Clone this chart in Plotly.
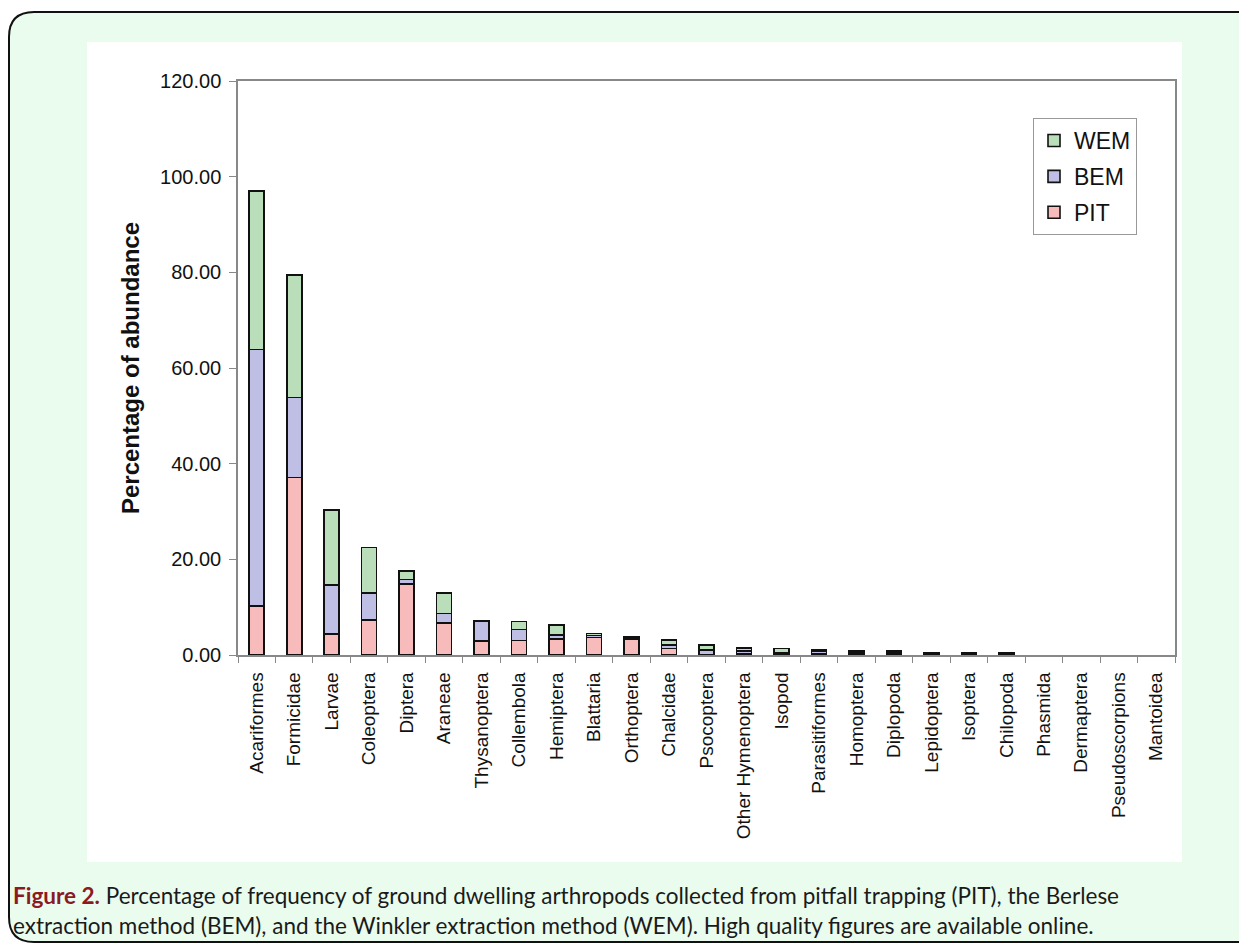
import plotly.graph_objects as go

categories = ["Acariformes", "Formicidae", "Larvae", "Coleoptera", "Diptera", "Araneae",
              "Thysanoptera", "Collembola", "Hemiptera", "Blattaria", "Orthoptera", "Chalcidae",
              "Psocoptera", "Other Hymenoptera", "Isopod", "Parasitiformes", "Homoptera",
              "Diplopoda", "Lepidoptera", "Isoptera", "Chilopoda", "Phasmida", "Dermaptera",
              "Pseudoscorpions", "Mantoidea"]
pit = [10.2, 37.1, 4.4, 7.3, 14.8, 6.7, 2.9, 3.0, 3.3, 3.7, 3.2, 1.4, 0.1, 0.3, 0.2, 0.2,
       0.4, 0.4, 0.2, 0.2, 0.2, 0, 0, 0, 0]
bem = [53.7, 16.7, 10.2, 5.6, 1.0, 2.0, 4.1, 2.3, 0.9, 0.4, 0.3, 0.7, 1.0, 0.5, 0.3, 0.7,
       0.2, 0.2, 0.1, 0.1, 0.1, 0, 0, 0, 0]
wem = [33.1, 25.6, 15.7, 9.6, 1.7, 4.2, 0.1, 1.7, 2.1, 0.4, 0.3, 1.0, 1.05, 0.65, 0.9, 0.2,
       0.2, 0.2, 0.1, 0.1, 0.1, 0, 0, 0, 0]
series_names = ["PIT", "BEM", "WEM"]
series_colors = ["#F8BBBB", "#BFBFE6", "#B9DEB9"]
y_ticks = [0, 20, 40, 60, 80, 100, 120]
y_title = "Percentage of abundance"
caption_bold = "Figure 2."
caption_line1 = " Percentage of frequency of ground dwelling arthropods collected from pitfall trapping (PIT), the Berlese"
caption_line2 = "extraction method (BEM), and the Winkler extraction method (WEM). High quality figures are available online."

# the page body adds an 8px offset; work in reference pixel coordinates and subtract it
OFF = 8
W, H = 1247 - OFF, 947 - OFF
L, R, T, B = 238 - OFF, 1175 - OFF, 81 - OFF, 655 - OFF
pw, ph = R - L, B - T


def px(x):
    return (x - OFF - L) / pw


def py(y):
    return (B - (y - OFF)) / ph


fig = go.Figure()
for rank, (name, vals, col) in enumerate(zip(series_names, [pit, bem, wem], series_colors)):
    fig.add_trace(go.Bar(
        x=categories, y=[v if v > 0 else None for v in vals], name=name,
        legendgroup=name, legendrank=3 - rank,
        marker=dict(color=col, line=dict(color="#111111", width=1.6)),
        width=0.4,
    ))

# outer rounded card
r = 25
x0, y0, x1, y1 = 9, 12, 1270, 942
path = (f"M {px(x0 + r)},{py(y0)} L {px(x1)},{py(y0)} L {px(x1)},{py(y1)} "
        f"L {px(x0 + r)},{py(y1)} Q {px(x0)},{py(y1)} {px(x0)},{py(y1 - r)} "
        f"L {px(x0)},{py(y0 + r)} Q {px(x0)},{py(y0)} {px(x0 + r)},{py(y0)} Z")
shapes = [
    dict(type="path", path=path, xref="paper", yref="paper", layer="below",
         fillcolor="#EAFCEE", line=dict(color="#111111", width=2)),
    dict(type="rect", xref="paper", yref="paper", layer="below",
         x0=px(87), x1=px(1182), y0=py(862), y1=py(42),
         fillcolor="white", line=dict(width=0)),
]

cap_font = dict(family="Lato", size=22.5, color="#1a1a1a")
annotations = [
    dict(xref="paper", yref="paper", x=px(11), y=py(895), xanchor="left", yanchor="middle",
         showarrow=False, align="left", font=cap_font,
         text=f"<b><span style='color:#8B1A22'>{caption_bold}</span></b>{caption_line1}"),
    dict(xref="paper", yref="paper", x=px(11), y=py(925), xanchor="left", yanchor="middle",
         showarrow=False, align="left", font=cap_font, text=caption_line2),
]

fig.update_layout(
    width=W, height=H,
    margin=dict(l=L, r=W - R, t=T, b=H - B, autoexpand=False),
    paper_bgcolor="white", plot_bgcolor="white",
    barmode="stack", bargap=0.6,
    font=dict(family="Liberation Sans, Arial", color="#111111"),
    shapes=shapes, annotations=annotations,
    legend=dict(x=px(1033), y=py(118), xanchor="left", yanchor="top",
                traceorder="grouped", tracegroupgap=3,
                bordercolor="#999999", borderwidth=1, bgcolor="white",
                font=dict(size=23, family="Liberation Sans, Arial", color="#111111")),
    xaxis=dict(type="category", tickson="boundaries", ticks="outside", ticklen=6,
               tickcolor="#888888", tickangle=-90, ticklabelstandoff=8,
               tickfont=dict(size=19, family="Liberation Sans, Arial", color="#111111"),
               showline=True, linecolor="#888888", linewidth=1.5, mirror=True,
               showgrid=False, automargin=False),
    yaxis=dict(range=[0, 120], tickvals=y_ticks, tickformat=".2f", ticks="outside",
               ticklen=7, tickcolor="#888888", ticklabelstandoff=4,
               tickfont=dict(size=20, family="Liberation Sans, Arial", color="#111111"),
               showline=True, linecolor="#888888", linewidth=1.5, mirror=True,
               showgrid=False, zeroline=False, automargin=False,
               title=dict(text=f"<b>{y_title}</b>", standoff=14,
                          font=dict(size=24, family="Liberation Sans, Arial", color="#111111"))),
)

fig.write_html("out.html")
